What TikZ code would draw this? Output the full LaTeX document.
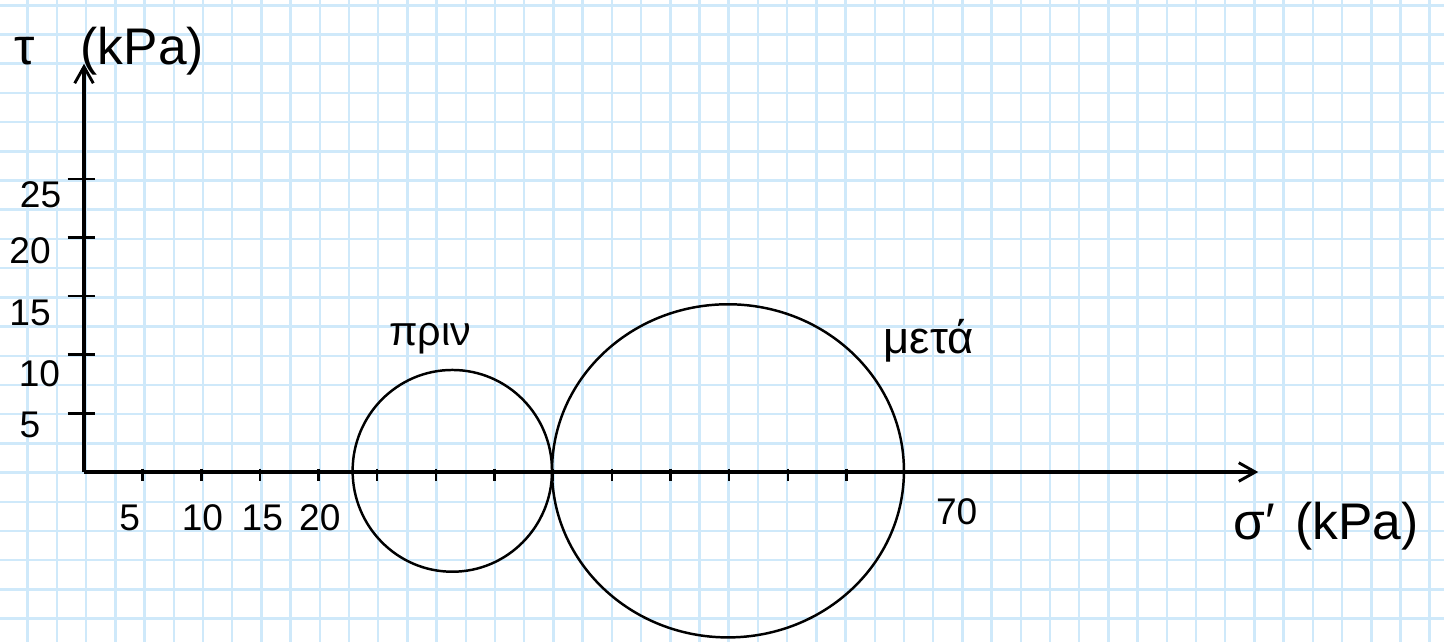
\documentclass[tikz,border=0pt]{standalone}
\usepackage{fontspec}
\setmainfont{Liberation Sans}
\usepackage{tikz}
\usetikzlibrary{positioning, arrows.meta}
\definecolor{gridblue}{RGB}{207, 233, 250}

\begin{document}
\begin{tikzpicture}[x=0.2cm, y=0.2cm,
  axis/.style={line width=1.6pt, -{Straight Barb[length=8pt, width=9pt, line width=1.4pt]}},
  tickmark/.style={line width=1.2pt},
  mohr/.style={line width=1.2pt},
  numlabel/.style={font=\fontsize{18}{18}\selectfont},
  unitlabel/.style={font=\fontsize{25}{25}\selectfont},
  greeklabel/.style={font=\fontsize{20}{20}\selectfont}]
\useasboundingbox (-7.161,-14.41) rectangle (115.94,40.24);
\fill[white] (-7.161,-14.41) rectangle (115.94,40.24);
\begin{scope}[shift={(0.18,-0.05)}]
\draw[step=2.49, gridblue, line width=1.2pt] (-9.96,-14.94) grid (117.03,42.33);
\end{scope}
\coordinate (origin) at (0,0);
\coordinate (xend) at (100.1,0);
\coordinate (yend) at (0,34.8);
\draw[axis] (origin) -- (xend);
\draw[axis] (origin) -- (yend);
\foreach \x in {5,10,...,65}
  \draw[tickmark] (\x,0.3) -- (\x,-0.8);
\foreach \y in {5,10,...,25}
  \draw[tickmark] (-1.4,\y) -- (0.9,\y);
\node[unitlabel, anchor=west, inner sep=0pt] (taulabel) at (-6.0,35.9) {τ\hspace{0.9em}(kPa)};
\node[unitlabel] (sigmalabel) at (105.9,-4.6) {σ′\hspace{0.4em}(kPa)};
\node[numlabel] (x5) at (3.9,-3.9) {5};
\node[numlabel] (x10) at (10.1,-3.9) {10};
\node[numlabel] (x15) at (15.2,-3.9) {15};
\node[numlabel] (x20) at (20.1,-3.9) {20};
\node[numlabel] (x70) at (74.4,-3.4) {70};
\node[numlabel] (y5) at (-4.6,4.0) {5};
\node[numlabel] (y10) at (-3.8,8.4) {10};
\node[numlabel] (y15) at (-4.6,13.6) {15};
\node[numlabel] (y20) at (-4.6,18.9) {20};
\node[numlabel] (y25) at (-3.7,23.6) {25};
\coordinate (cbefore) at (31.4,0.1);
\coordinate (cafter) at (54.9,0.1);
\draw[mohr] (cbefore) ellipse [x radius=8.5, y radius=8.6];
\draw[mohr] (cafter) ellipse [x radius=15, y radius=14.2];
\node[greeklabel] (before) at (29.5,11.4) {πριν};
\node[greeklabel,font=\fontsize{22}{22}\selectfont] (after) at (72.0,11.2) {μετά};
\end{tikzpicture}
\end{document}
